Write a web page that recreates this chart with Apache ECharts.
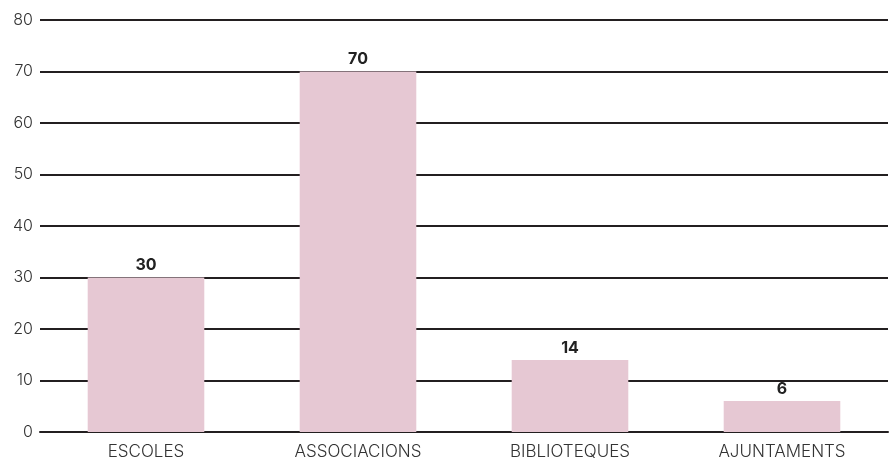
<!doctype html>
<html lang="ca">
<head>
    <meta charset="UTF-8">
    <title>Gràfic</title>
    <style>
        html, body { margin: 0; padding: 0; background: #fff; }
        #main { width: 892px; height: 461px; }
    </style>
</head>
<body>
<div id="main"></div>
<script src="https://cdn.jsdelivr.net/npm/echarts@6/dist/echarts.min.js"></script>
<script>
    var categories = ['ESCOLES', 'ASSOCIACIONS', 'BIBLIOTEQUES', 'AJUNTAMENTS'];
    var values = [30, 70, 14, 6];

    var myChart = echarts.init(document.getElementById('main'));
    var option = {
        backgroundColor: '#fff',
        textStyle: { fontFamily: 'Inter, "Open Sans", sans-serif' },
        grid: { left: 40, right: 4, top: 20, bottom: 29, containLabel: false },
        xAxis: {
            type: 'category',
            data: categories,
            axisLine: { show: true, lineStyle: { color: '#231f20', width: 2 } },
            axisTick: { show: false },
            axisLabel: { color: '#333', fontSize: 17, fontWeight: 300, margin: 11 }
        },
        yAxis: {
            type: 'value',
            min: 0,
            max: 80,
            interval: 10,
            axisLine: { show: false },
            axisTick: { show: false },
            axisLabel: { color: '#333', fontSize: 16, fontWeight: 300, margin: 7, align: 'right' },
            splitLine: { show: true, lineStyle: { color: '#231f20', width: 2 } }
        },
        series: [{
            type: 'bar',
            data: values,
            barWidth: '55%',
            itemStyle: { color: '#e6c8d3' },
            label: {
                show: true,
                position: 'top',
                distance: 4,
                color: '#222',
                fontWeight: 'bold',
                fontSize: 16
            }
        }]
    };
    myChart.setOption(option);
</script>
</body>
</html>
